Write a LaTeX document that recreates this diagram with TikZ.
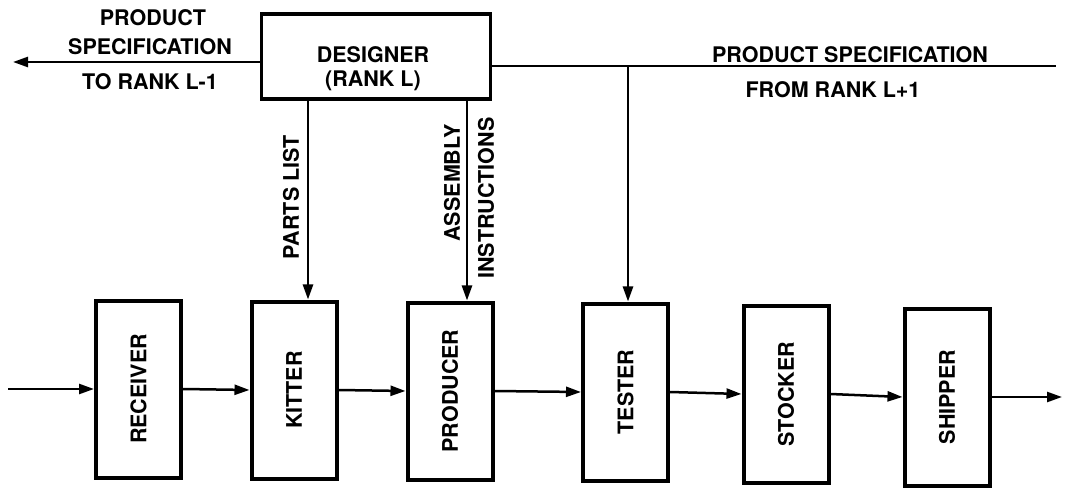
\documentclass[tikz,border=0pt]{standalone}
\usepackage{fontspec}
\setmainfont{TeX Gyre Heros}
\usetikzlibrary{arrows.meta}
\tikzset{
  box/.style={draw, line width=4pt, minimum width=85pt, minimum height=177pt, inner sep=0pt},
  dbox/.style={draw, line width=3.6pt, minimum width=229pt, minimum height=85pt, inner sep=0pt},
  lbl/.style={font=\fontsize{21.5}{24}\selectfont\bfseries, inner sep=0pt, align=center},
  vlbl/.style={lbl, rotate=90},
  arr/.style={line width=2.5pt, -{Triangle[length=15pt,width=10pt]}},
  ln/.style={line width=2.5pt}
}
\begin{document}
\begin{tikzpicture}[x=1pt,y=-1pt]
\useasboundingbox (0,0) rectangle (1066,489);
% designer
\node[dbox] (des) at (376,56.5) {};
\node[lbl] (destxt) at (373,69) {DESIGNER\\(RANK L)};
% process boxes
\node[box] (rec) at (138.5,389) {};
\node[box] (kit) at (294,390) {};
\node[box] (pro) at (450,391) {};
\node[box] (tes) at (625.5,392) {};
\node[box] (sto) at (786,394) {};
\node[box] (shi) at (947,397) {};
\node[vlbl] (rectxt) at (rec) {RECEIVER};
\node[vlbl] (kittxt) at (kit) {KITTER};
\node[vlbl] (protxt) at (pro) {PRODUCER};
\node[vlbl] (testxt) at (tes) {TESTER};
\node[vlbl] (stotxt) at (sto) {STOCKER};
\node[vlbl] (shitxt) at (shi) {SHIPPER};
% top connectors
\coordinate (outL) at (13,62);
\coordinate (inR) at (1056,66);
\coordinate (jt) at (628,66);
\coordinate (pl) at (308,100);
\coordinate (ai) at (467,100);
\draw[arr] (des.west |- outL) -- (outL);
\draw[ln] (des.east |- inR) -- (inR);
\draw[arr] (jt) -- (jt |- tes.north);
\draw[arr] (pl) -- (pl |- kit.north);
\draw[arr] (ai) -- (ai |- pro.north);
% chain
\coordinate (inL) at (8,389);
\coordinate (outR) at (1062,397);
\draw[arr] (inL) -- (rec.west);
\draw[arr] (rec.east) -- (kit.west);
\draw[arr] (kit.east) -- (pro.west);
\draw[arr] (pro.east) -- (tes.west);
\draw[arr] (tes.east) -- (sto.west);
\draw[arr] (sto.east) -- (shi.west);
\draw[arr] (shi.east) -- (outR);
% labels
\node[lbl] (l1) at (153,18) {PRODUCT};
\node[lbl] (l2) at (150,47) {SPECIFICATION};
\node[lbl] (l3) at (150,82) {TO RANK L-1};
\node[lbl] (r1) at (850,55) {PRODUCT SPECIFICATION};
\node[lbl] (r2) at (833,90) {FROM RANK L+1};
\node[vlbl] (plt) at (291,197) {PARTS LIST};
\node[vlbl] (ast) at (452,183) {ASSEMBLY};
\node[vlbl] (ist) at (486,198) {INSTRUCTIONS};
\end{tikzpicture}
\end{document}
